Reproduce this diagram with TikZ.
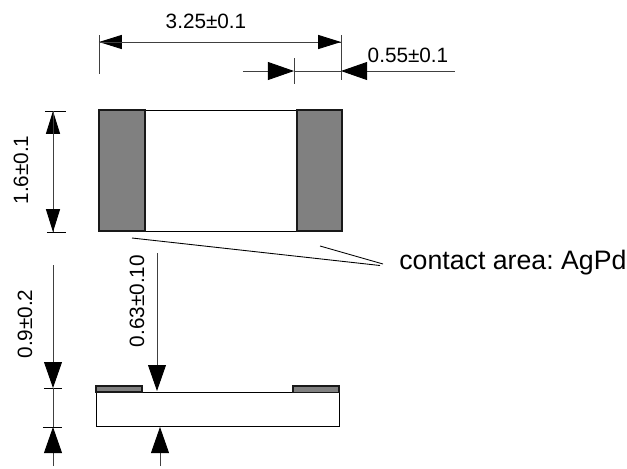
\documentclass[tikz,border=0pt]{standalone}
\usepackage{fontspec}
\setmainfont{Liberation Sans}
\usetikzlibrary{arrows.meta}
\begin{document}
\frenchspacing
\begin{tikzpicture}[x=0.02cm,y=-0.02cm]
    \tikzstyle{dimline}=[black!75,line width=0.5pt];
    \tikzstyle{headline}=[dimline,-{Triangle[length=13pt,width=8pt,black]}];
    \tikzstyle{bigline}=[dimline,-{Triangle[length=14.8pt,width=10.2pt,black]}];
    \tikzstyle{contact}=[draw=black!90,fill=black!50,line width=0.6pt];
    \tikzstyle{body}=[draw=black,line width=0.5pt];
    \tikzstyle{dimtext}=[font=\fontsize{11.8pt}{14pt}\selectfont,inner sep=0pt];
    \useasboundingbox (0,0) rectangle (627,468);

    % top view
    \draw[body] (99,110.5) rectangle (342,231.5);
    \draw[contact] (99,110) rectangle (145,231);
    \draw[contact] (297,110) rectangle (342,231);

    % side view
    \draw[body] (96,392) rectangle (339,426);
    \draw[contact] (96,386) rectangle (142,392);
    \draw[contact] (293,386) rectangle (339,392.5);

    % extension lines
    \foreach \x/\ya/\yb in {99/35/74,341/35/80,294/58/84}{
        \draw[dimline] (\x,\ya) -- (\x,\yb);
    }
    \foreach \xa/\xb/\y in {45/66/111,47/66/232,44/62/388,43/62/427}{
        \draw[dimline,black] (\xa,\y) -- (\xb,\y);
    }

    % dimension 3.25
    \coordinate (wl) at (99,42);
    \coordinate (wr) at (341,42);
    \draw[headline] (wr) -- (wl);
    \draw[headline] (wl) -- (wr);
    \node (wtext) [dimtext] at (206,21) {3.25±0.1};

    % dimension 0.55
    \coordinate (cl) at (243,71);
    \coordinate (cm) at (294,71);
    \coordinate (cr) at (341,71);
    \coordinate (ce) at (455,71);
    \draw[bigline] (cl) -- (cm);
    \draw[bigline] (ce) -- (cr);
    \draw[dimline] (cm) -- (cr);
    \node (ctext) [dimtext] at (408,55) {0.55±0.1};

    % dimension 1.6
    \coordinate (ht) at (53,111);
    \coordinate (hb) at (53,232);
    \draw[headline] (hb) -- (ht);
    \draw[headline] (ht) -- (hb);
    \node (htext) [dimtext,rotate=90] at (21,170) {1.6±0.1};

    % dimension 0.9
    \coordinate (ta) at (53,265);
    \coordinate (tb) at (53,388);
    \coordinate (tc) at (53,427);
    \coordinate (td) at (53,466);
    \draw[bigline] (ta) -- (tb);
    \draw[bigline] (td) -- (tc);
    \draw[dimline] (tb) -- (tc);
    \node (ttext) [dimtext,rotate=90] at (25,324) {0.9±0.2};

    % dimension 0.63
    \coordinate (sa) at (157,253);
    \coordinate (sb) at (157,391);
    \coordinate (sc) at (160,427);
    \coordinate (sd) at (160,466);
    \draw[bigline] (sa) -- (sb);
    \draw[bigline] (sd) -- (sc);
    \node (stext) [dimtext,rotate=90] at (137,301) {0.63±0.10};

    % contact label
    \node (area) [font=\fontsize{15.2pt}{18pt}\selectfont,inner sep=0pt,anchor=west] at (399,263) {contact area: AgPd};
    \coordinate (la) at (132,238);
    \coordinate (lb) at (320,246);
    \draw[dimline,black] (la) -- (380,265.5);
    \draw[dimline,black] (lb) -- (383,264);
\end{tikzpicture}
\end{document}
